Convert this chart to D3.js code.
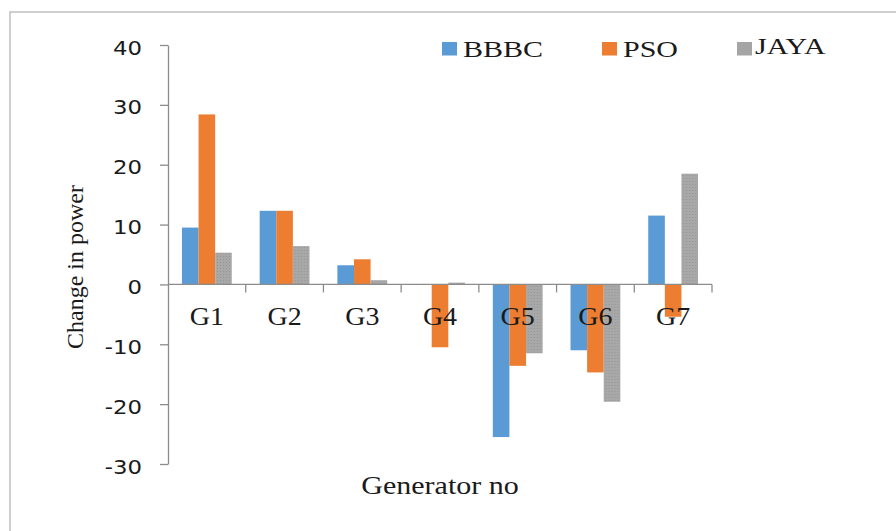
<!DOCTYPE html>
<html>
<head>
<meta charset="utf-8">
<script src="https://cdn.jsdelivr.net/npm/d3@7"></script>
<style>
  body { margin: 0; background: #fff; }
  svg { display: block; }
</style>
</head>
<body>
<div id="chart"></div>
<script>
// data
const generators = ["G1", "G2", "G3", "G4", "G5", "G6", "G7"]
const seriesNames = ["BBBC", "PSO", "JAYA"]
const bbbc = [9.5, 12.3, 3.2, 0, -25.5, -11.0, 11.5]
const pso = [28.4, 12.3, 4.2, -10.5, -13.6, -14.7, -5.4]
const jaya = [5.3, 6.4, 0.7, 0.3, -11.5, -19.6, 18.5]
const yTicks = [-30, -20, -10, 0, 10, 20, 30, 40]

const seriesValues = { BBBC: bbbc, PSO: pso, JAYA: jaya }
const colors = { BBBC: "#5b9bd5", PSO: "#ed7d31", JAYA: "url(#dots)" }
const legendColors = { BBBC: "#5b9bd5", PSO: "#ed7d31", JAYA: "#a5a5a5" }

const width = 896, height = 531
const plot = { left: 168, right: 712, top: 45, bottom: 464 }

const svg = d3.select("#chart").append("svg")
    .attr("width", width)
    .attr("height", height)

// dotted fill for the grey bars
const pat = svg.append("defs").append("pattern")
    .attr("id", "dots")
    .attr("width", 3).attr("height", 3)
    .attr("patternUnits", "userSpaceOnUse")
pat.append("rect").attr("width", 3).attr("height", 3).attr("fill", "#a8a8a8")
pat.append("rect").attr("x", 1).attr("y", 1).attr("width", 1).attr("height", 1).attr("fill", "#959595")

// frame around the chart area
svg.append("path")
    .attr("d", `M10,${height} V12 H${width}`)
    .attr("fill", "none")
    .attr("stroke", "#c0c0c0")
    .attr("stroke-width", 1.5)

// scales
const x0 = d3.scaleBand().domain(generators).range([plot.left, plot.right]).padding(0)
const x1 = d3.scaleBand().domain(seriesNames).range([0, x0.bandwidth()]).paddingInner(0).paddingOuter(0.84)
const y = d3.scaleLinear().domain([-30, 40]).range([plot.bottom, plot.top])

// horizontally stretched text like in the picture
function stretchedText(g, x, y, txt, size, sx, anchor, family) {
    return g.append("text")
        .attr("transform", `translate(${x},${y}) scale(${sx},1)`)
        .attr("text-anchor", anchor)
        .attr("font-family", family || "'Liberation Serif', 'Times New Roman', serif")
        .attr("font-size", size)
        .attr("fill", "#1a1a1a")
        .text(txt)
}

// bars
const groups = svg.append("g").selectAll("g")
    .data(generators)
    .join("g")
    .attr("transform", d => `translate(${x0(d)},0)`)

groups.selectAll("rect")
    .data((g, i) => seriesNames.map(s => ({ key: s, value: seriesValues[s][i] })))
    .join("rect")
    .attr("x", d => x1(d.key))
    .attr("width", x1.bandwidth())
    .attr("y", d => y(Math.max(0, d.value)))
    .attr("height", d => Math.abs(y(d.value) - y(0)))
    .attr("fill", d => colors[d.key])

// y axis (plain hyphen for negatives, as in the picture)
const yAxis = svg.append("g")
    .attr("transform", `translate(${plot.left},0)`)
    .call(d3.axisLeft(y).tickValues(yTicks).tickFormat(d => String(d)).tickSize(8).tickSizeOuter(0))
yAxis.select(".domain").attr("stroke", "#8c8c8c").attr("stroke-width", 1.3)
yAxis.selectAll(".tick line").attr("stroke", "#8c8c8c").attr("stroke-width", 1.3)
yAxis.selectAll(".tick text")
    .attr("font-family", "'DejaVu Sans', Verdana, sans-serif")
    .attr("font-size", 19)
    .attr("fill", "#1a1a1a")
    .attr("x", -26 / 1.2)
    .attr("dy", "0.48em")
    .attr("transform", "scale(1.2,1)")

// x axis along zero
const xAxis = svg.append("g")
xAxis.append("line")
    .attr("x1", plot.left).attr("x2", plot.right)
    .attr("y1", y(0)).attr("y2", y(0))
    .attr("stroke", "#8c8c8c").attr("stroke-width", 1.3)
xAxis.selectAll("line.tick")
    .data(generators)
    .join("line")
    .attr("class", "tick")
    .attr("x1", d => x0(d) + x0.bandwidth()).attr("x2", d => x0(d) + x0.bandwidth())
    .attr("y1", y(0)).attr("y2", y(0) + 8)
    .attr("stroke", "#8c8c8c").attr("stroke-width", 1.3)
generators.forEach(g => {
    stretchedText(xAxis, x0(g) + x0.bandwidth() / 2, 325, g, 25, 1.12, "middle")
})

// axis titles
stretchedText(svg, (plot.left + plot.right) / 2, 494, "Generator no", 25, 1.2, "middle")
svg.append("text")
    .attr("transform", "translate(83,267) rotate(-90)")
    .attr("text-anchor", "middle")
    .attr("font-family", "'Liberation Serif', 'Times New Roman', serif")
    .attr("font-size", 24)
    .attr("fill", "#1a1a1a")
    .text("Change in power")

// legend
const legendX = [442, 602, 737]
const legend = svg.append("g")
seriesNames.forEach((s, i) => {
    legend.append("rect")
        .attr("x", legendX[i]).attr("y", 42)
        .attr("width", 15).attr("height", 13.5)
        .attr("fill", legendColors[s])
    stretchedText(legend, legendX[i] + (i === 2 ? 18 : 21), i === 2 ? 53.5 : 56.5, s, 24, 1.25, "start")
})
</script>
</body>
</html>
